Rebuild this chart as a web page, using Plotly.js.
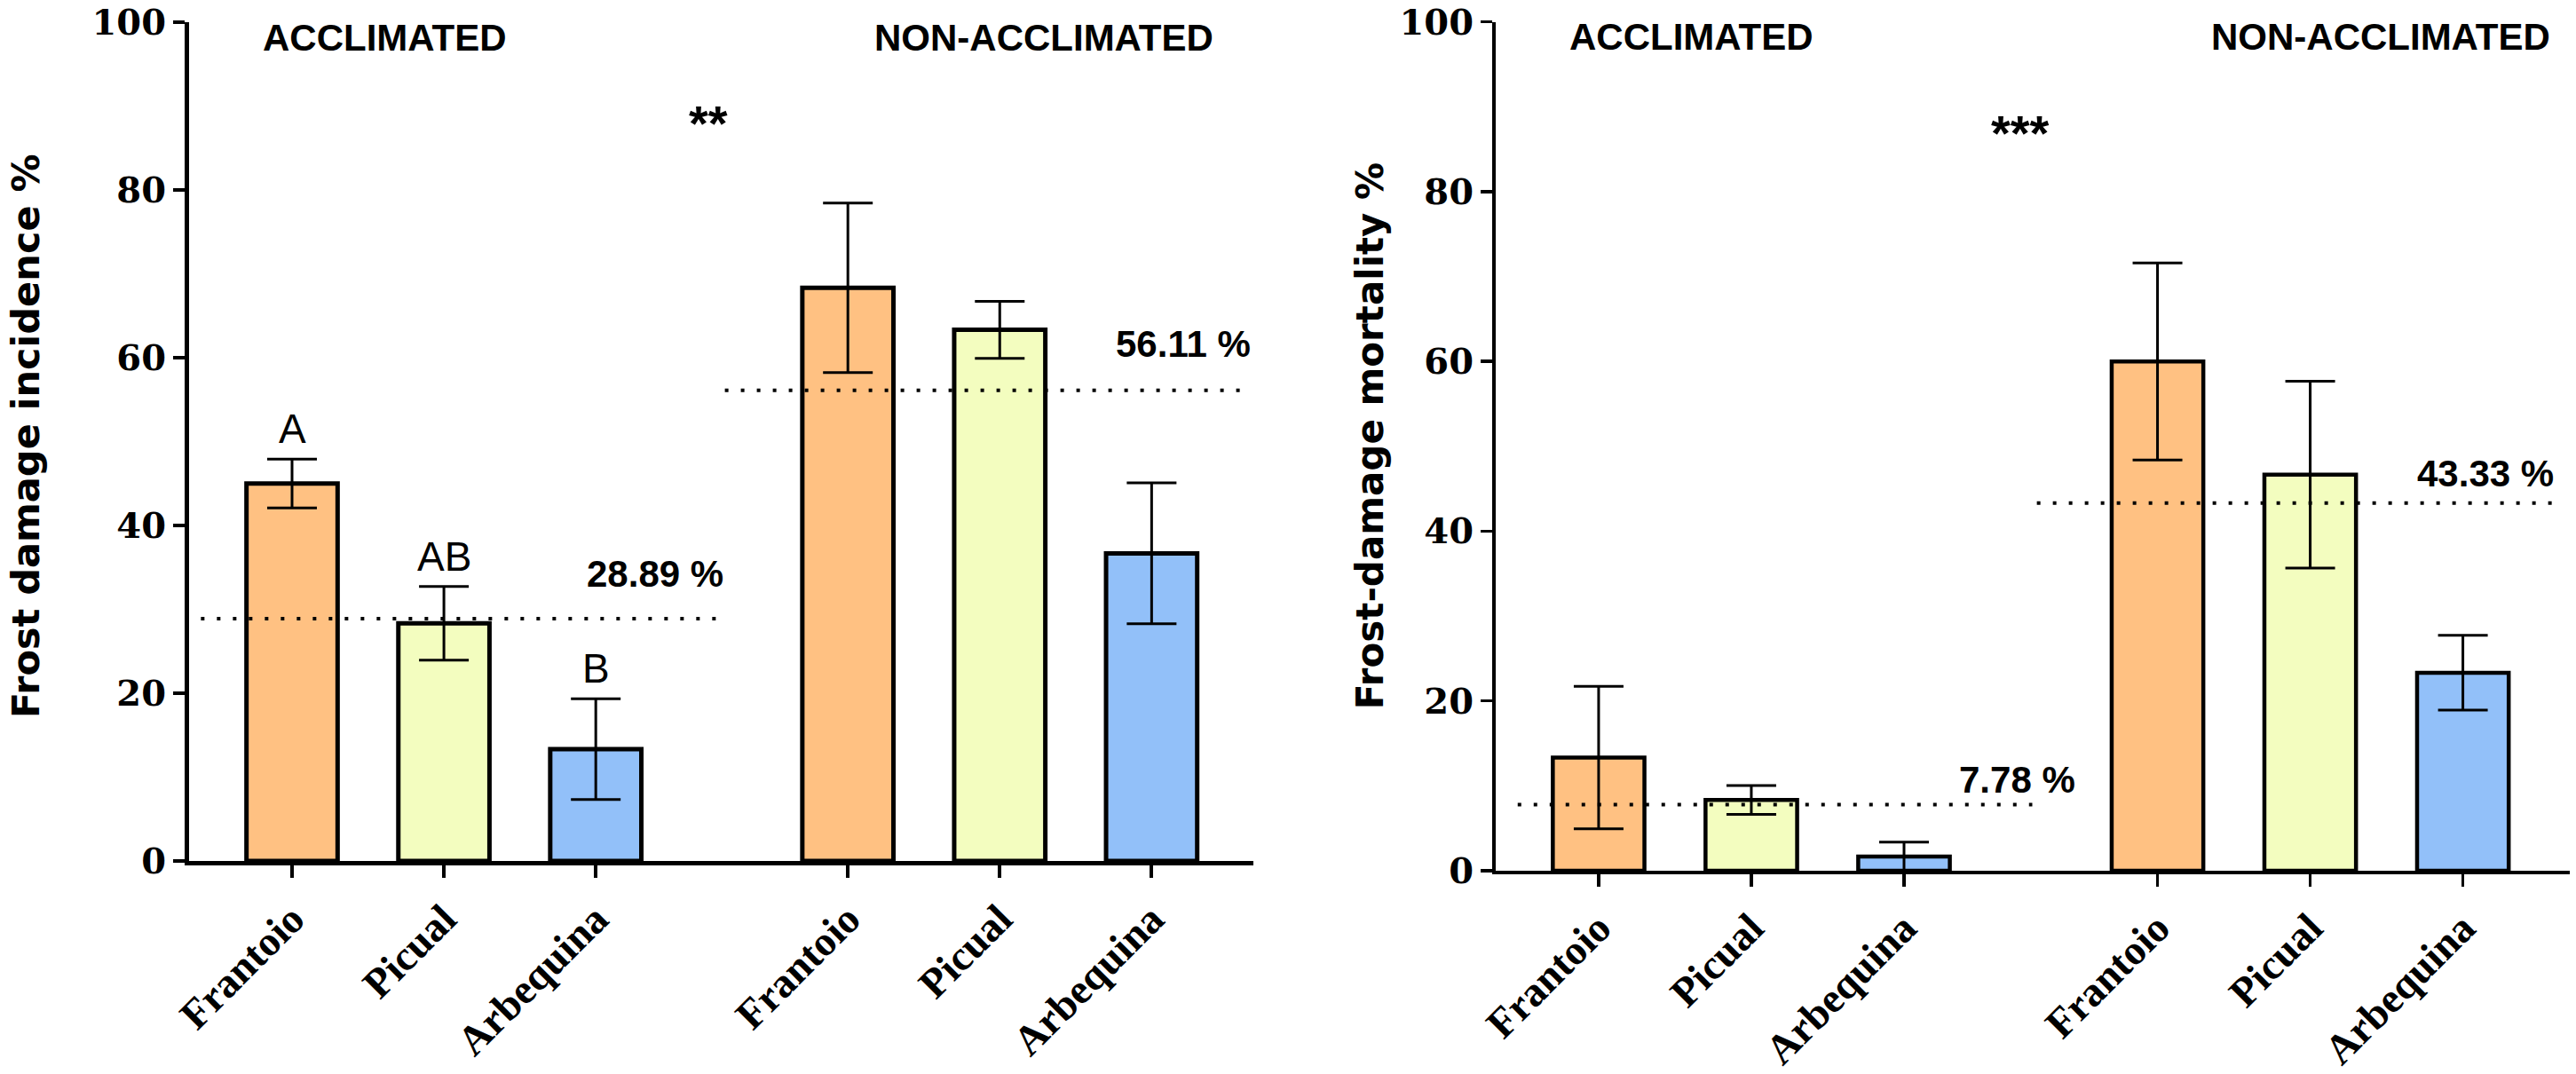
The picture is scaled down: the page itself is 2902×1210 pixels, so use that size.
<!DOCTYPE html>
<html>
<head>
<meta charset="utf-8">
<script src="https://cdn.plot.ly/plotly-3.0.1.min.js"></script>
<style>
  html, body { margin: 0; padding: 0; background: #fff; }
  #chart { width: 2902px; height: 1210px; }
</style>
</head>
<body>
<div id="chart"></div>
<script>
// Cultivars, acclimated group first then non-acclimated
const cultivars = ['Frantoio', 'Picual', 'Arbequina', 'Frantoio', 'Picual', 'Arbequina'];
const barColors = ['#FFC182', '#F3FDBF', '#92C0F9', '#FFC182', '#F3FDBF', '#92C0F9'];

// Frost damage incidence % (mean and error)
const incidence = [45.0, 28.33, 13.33, 68.33, 63.33, 36.67];
const incidenceErr = [2.9, 4.4, 6.0, 10.1, 3.4, 8.4];
const incidenceMeans = [28.89, 56.11];
const incidenceLetters = ['A', 'AB', 'B'];

// Frost-damage mortality % (mean and error)
const mortality = [13.33, 8.33, 1.67, 60.0, 46.67, 23.33];
const mortalityErr = [8.4, 1.7, 1.7, 11.6, 11.0, 4.4];
const mortalityMeans = [7.78, 43.33];

const groupLabels = ['ACCLIMATED', 'NON-ACCLIMATED'];
const yTicks = [0, 20, 40, 60, 80, 100];

// bar positions: three per group, groups separated by a wider gap
const gap = 1.66;
const xPos = cultivars.map((c, i) => i < 3 ? i : i + gap - 1);

function barTrace(values, errors, axis, lineW) {
    return {
        type: 'bar',
        x: xPos,
        y: values,
        xaxis: 'x' + axis,
        yaxis: 'y' + axis,
        width: 0.6,
        marker: { color: barColors, line: { color: '#000', width: lineW } },
        error_y: { type: 'data', array: errors, visible: true, color: '#000', thickness: 3, width: 28 },
        hoverinfo: 'skip',
        showlegend: false
    };
}

function meanLine(axis, x0, x1, y) {
    return {
        type: 'line', xref: 'x' + axis, yref: 'y' + axis,
        x0: x0, x1: x1, y0: y, y1: y,
        line: { color: '#000', width: 4, dash: '4px,14px' }
    };
}

const sansBold = { family: 'Liberation Sans, Arial, sans-serif', size: 42, color: '#000', weight: 'bold' };
const starFont = { family: 'Liberation Sans, Arial, sans-serif', size: 56, color: '#000', weight: 'bold' };
const serifTicks = { family: 'DejaVu Serif, serif', size: 40, color: '#000', weight: 'bold' };
const cultivarFont = { family: 'Liberation Serif, Times New Roman, serif', size: 47, color: '#000', weight: 'bold' };

function note(axis, x, y, text, font) {
    return { xref: 'x' + axis, yref: 'y' + axis, x: x, y: y, text: text, showarrow: false, font: font };
}

const annotations = [
    // left panel
    note('', 0.61, 98.2, groupLabels[0], sansBold),
    note('', 4.95, 98.2, groupLabels[1], sansBold),
    note('', 2.74, 88, '**', starFont),
    note('', 2.39, 34.2, incidenceMeans[0].toFixed(2) + ' %', sansBold),
    note('', 5.87, 61.6, incidenceMeans[1].toFixed(2) + ' %', sansBold),
    ...incidenceLetters.map((t, i) => note('', xPos[i], incidence[i] + incidenceErr[i] + 3.6, t,
        { family: 'Liberation Sans Narrow, Liberation Sans, Arial, sans-serif', size: 46, color: '#000' })),
    // right panel
    note('2', 0.61, 98.2, groupLabels[0], sansBold),
    note('2', 5.12, 98.2, groupLabels[1], sansBold),
    note('2', 2.76, 87, '***', starFont),
    note('2', 2.74, 10.7, mortalityMeans[0].toFixed(2) + ' %', sansBold),
    note('2', 5.81, 46.8, mortalityMeans[1].toFixed(2) + ' %', sansBold),
    // y titles
    { xref: 'paper', yref: 'paper', x: 29 / 2902, y: 0.594, xanchor: 'center', yanchor: 'middle',
      textangle: -90, showarrow: false,
      text: 'Frost damage incidence %',
      font: { family: 'DejaVu Sans, Verdana, sans-serif', size: 43, color: '#000', weight: 'bold' } },
    { xref: 'paper', yref: 'paper', x: 1543 / 2902, y: 0.594, xanchor: 'center', yanchor: 'middle',
      textangle: -90, showarrow: false,
      text: 'Frost-damage mortality %',
      font: { family: 'DejaVu Sans, Verdana, sans-serif', size: 42, color: '#000', weight: 'bold' } }
];

const shapes = [
    meanLine('', -0.6, 2.84, incidenceMeans[0]),
    meanLine('', 2.85, 6.29, incidenceMeans[1]),
    meanLine('2', -0.53, 2.84, mortalityMeans[0]),
    meanLine('2', 2.87, 6.31, mortalityMeans[1])
];

const data = [
    barTrace(incidence, incidenceErr, '', 5),
    barTrace(mortality, mortalityErr, '2', 4.5)
];

const layout = {
    width: 2902,
    height: 1210,
    margin: { l: 0, r: 0, t: 0, b: 0 },
    paper_bgcolor: '#fff',
    plot_bgcolor: '#fff',
    bargap: 0,
    xaxis: {
        domain: [213 / 2902, 1412 / 2902],
        range: [-0.678, 6.33],
        tickvals: xPos, ticktext: cultivars, tickangle: -45,
        showline: true, linecolor: '#000', linewidth: 5,
        ticks: 'outside', ticklen: 14, tickwidth: 4, tickcolor: '#000',
        showgrid: false, zeroline: false, ticklabeloverflow: 'allow',
        tickfont: cultivarFont
    },
    yaxis: {
        domain: [240 / 1210, 1185 / 1210],
        range: [0, 100],
        tickvals: yTicks,
        showline: true, linecolor: '#000', linewidth: 5,
        ticks: 'outside', ticklen: 13, tickwidth: 4, tickcolor: '#000',
        showgrid: false, zeroline: false, ticklabeloverflow: 'allow',
        tickfont: serifTicks
    },
    xaxis2: {
        domain: [1685 / 2902, 2895 / 2902],
        range: [-0.674, 6.36],
        anchor: 'y2',
        tickvals: xPos, ticktext: cultivars, tickangle: -45,
        showline: true, linecolor: '#000', linewidth: 4,
        ticks: 'outside', ticklen: 14, tickwidth: 3.5, tickcolor: '#000',
        showgrid: false, zeroline: false, ticklabeloverflow: 'allow',
        tickfont: cultivarFont
    },
    yaxis2: {
        domain: [229 / 1210, 1185.3 / 1210],
        range: [0, 100],
        anchor: 'x2',
        tickvals: yTicks,
        showline: true, linecolor: '#000', linewidth: 4,
        ticks: 'outside', ticklen: 13, tickwidth: 3.5, tickcolor: '#000',
        showgrid: false, zeroline: false, ticklabeloverflow: 'allow',
        tickfont: serifTicks
    },
    shapes: shapes,
    annotations: annotations
};

Plotly.newPlot('chart', data, layout, { staticPlot: true });
</script>
</body>
</html>
